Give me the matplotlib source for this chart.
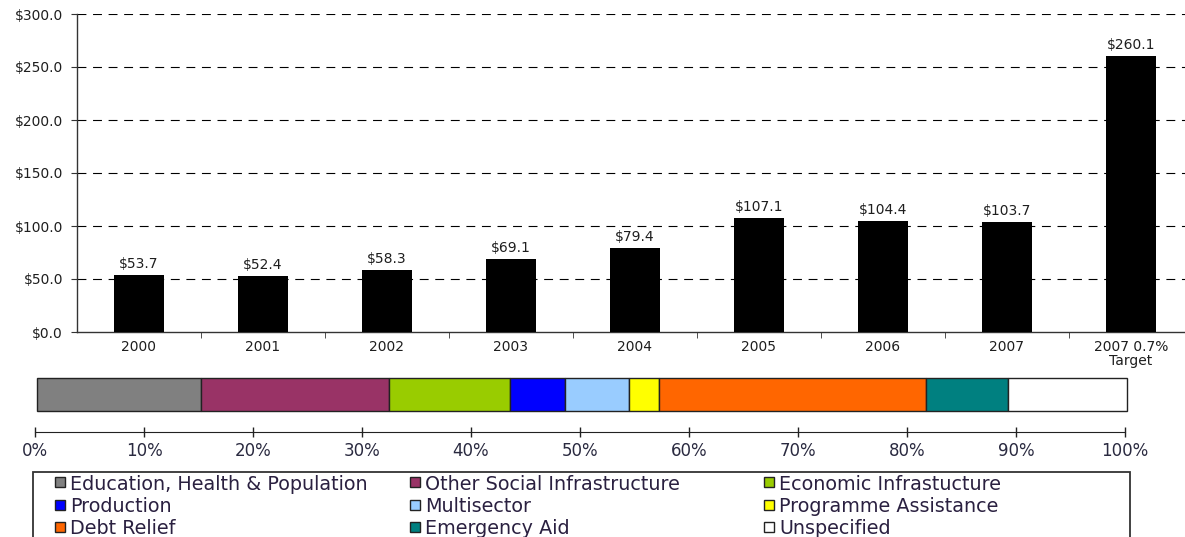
import matplotlib
matplotlib.use("Agg")
import matplotlib.pyplot as plt
from matplotlib.patches import Rectangle

# Annual aid totals (US$ millions)
years = ["2000", "2001", "2002", "2003", "2004", "2005", "2006", "2007", "2007 0.7%\nTarget"]
aid = [53.7, 52.4, 58.3, 69.1, 79.4, 107.1, 104.4, 103.7, 260.1]

# Sector breakdown of aid (% of total)
sectors = [
    "Education, Health & Population",
    "Other Social Infrastructure",
    "Economic Infrastucture",
    "Production",
    "Multisector",
    "Programme Assistance",
    "Debt Relief",
    "Emergency Aid",
    "Unspecified",
]
shares = [15.0, 17.3, 11.1, 5.0, 5.9, 2.8, 24.5, 7.5, 10.9]
sector_colors = ["#808080", "#993366", "#99cc00", "#0000ff", "#99ccff",
                 "#ffff00", "#ff6600", "#008080", "#ffffff"]

pct_ticks = list(range(0, 101, 10))
dollar_ticks = list(range(0, 301, 50))

W, H = 1185, 537
fig = plt.figure(figsize=(W / 100, H / 100), dpi=100)
plt.rcParams["font.family"] = ["DejaVu Sans"]
TXT = "#1e1e1e"


def box(x0, y0, x1, y1):
    return [x0 / W, 1 - y1 / H, (x1 - x0) / W, (y1 - y0) / H]


# --- annual totals -------------------------------------------------------
ax = fig.add_axes(box(77, 14, 1193, 332))
xpos = list(range(len(years)))
bars = ax.bar(xpos, aid, width=0.41, color="black", zorder=3)
ax.bar_label(bars, labels=[f"${v:.1f}" for v in aid], padding=3,
             fontsize=10, color=TXT)
ax.set_xlim(-0.5, len(years) - 0.5)
ax.set_ylim(0, 300)
ax.set_yticks(dollar_ticks)
ax.set_yticklabels([f"${v:.1f}" for v in dollar_ticks], fontsize=10, color=TXT)
ax.set_xticks(xpos)
ax.set_xticklabels(years, fontsize=10, color=TXT, linespacing=0.95)
ax.set_xticks([i + 0.5 for i in range(len(years) - 1)], minor=True)
ax.tick_params(axis="x", which="major", length=0, pad=6)
ax.tick_params(axis="x", which="minor", length=4, direction="out", color="#333")
ax.tick_params(axis="y", length=4, pad=6, color="#333")
for s in ("top", "right"):
    ax.spines[s].set_visible(False)
for s in ("left", "bottom"):
    ax.spines[s].set_color("#333")
    ax.spines[s].set_linewidth(1.0)
for v in dollar_ticks[1:]:
    ax.axhline(v, color="black", lw=0.8, linestyle=(0, (8, 6)), zorder=1)

# --- sector share bar ------------------------------------------------------
ax2 = fig.add_axes(box(37, 378, 1127, 411))
left = 0.0
for share, color in zip(shares, sector_colors):
    ax2.barh(0, share, left=left, height=1.0, color=color,
             edgecolor="#222222", linewidth=1.0, clip_on=False)
    left += share
ax2.set_xlim(0, 100)
ax2.set_ylim(-0.5, 0.5)
ax2.axis("off")

# --- percentage scale ------------------------------------------------------
ax3 = fig.add_axes(box(35, 431, 1125, 432))
ax3.set_xlim(0, 100)
ax3.set_xticks(pct_ticks)
ax3.set_xticklabels([f"{v}%" for v in pct_ticks], fontsize=12, color="#2a2a40")
ax3.set_yticks([])
for s in ("top", "left", "right"):
    ax3.spines[s].set_visible(False)
ax3.spines["bottom"].set_color("#222")
ax3.tick_params(axis="x", direction="inout", length=7, width=1, pad=4, color="#222")
ax3.patch.set_visible(False)

# --- legend -----------------------------------------------------------------
fig.patches.append(Rectangle((33 / W, 1 - 548 / H), (1130 - 33) / W, (548 - 472) / H,
                             transform=fig.transFigure, fill=False,
                             ec="#333333", lw=1.3))
col_x = [55, 410, 764]
row_y = [482, 505, 527]
for i, (name, color) in enumerate(zip(sectors, sector_colors)):
    r, c = divmod(i, 3)
    mx, my = col_x[c], row_y[r]
    fig.patches.append(Rectangle((mx / W, 1 - (my + 5) / H), 10 / W, 10 / H,
                                 transform=fig.transFigure, fc=color,
                                 ec="#222222", lw=1.0))
    fig.text((mx + 15) / W, 1 - my / H, name, va="center_baseline",
             ha="left", fontsize=13.8, color="#2a2040")

fig.savefig("out.png", dpi=100)
